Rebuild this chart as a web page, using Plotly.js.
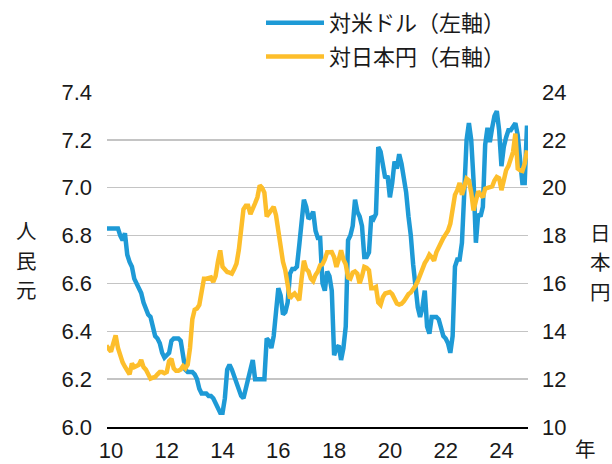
<!DOCTYPE html>
<html><head><meta charset="utf-8">
<script src="https://cdn.plot.ly/plotly-3.0.1.min.js"></script>
<style>html,body{margin:0;padding:0;background:#fff;}#chart{width:612px;height:464px;}</style>
</head><body><div id="chart"></div>
<script>
// Monthly data, Nov 2009 – Dec 2024
const startYear = 2009;
const startMonth = 11;
// 人民元 per US dollar (left axis)
const usdCny = [
  6.83, 6.83,
  6.83, 6.83, 6.83, 6.83, 6.80, 6.78, 6.81, 6.72, 6.69, 6.67, 6.62, 6.60,
  6.58, 6.56, 6.52, 6.49, 6.47, 6.46, 6.41, 6.38, 6.37, 6.35, 6.31, 6.29,
  6.30, 6.31, 6.36, 6.37, 6.37, 6.37, 6.36, 6.31, 6.24, 6.23, 6.23, 6.23,
  6.22, 6.20, 6.16, 6.14, 6.14, 6.14, 6.13, 6.13, 6.12, 6.10, 6.09, 6.06,
  6.06, 6.12, 6.24, 6.26, 6.24, 6.21, 6.18, 6.15, 6.13, 6.12, 6.16, 6.20,
  6.23, 6.28, 6.20, 6.20, 6.20, 6.20, 6.20, 6.37, 6.36, 6.33, 6.38, 6.48,
  6.58, 6.55, 6.47, 6.48, 6.52, 6.64, 6.66, 6.66, 6.67, 6.76, 6.88, 6.95,
  6.92, 6.87, 6.88, 6.90, 6.82, 6.79, 6.79, 6.60, 6.57, 6.65, 6.63, 6.57,
  6.30, 6.33, 6.34, 6.28, 6.33, 6.42, 6.78, 6.80, 6.84, 6.95, 6.90, 6.88,
  6.84, 6.71, 6.71, 6.73, 6.88, 6.87, 6.89, 7.17, 7.15, 7.09, 7.04, 7.05,
  6.96, 7.02, 7.11, 7.08, 7.14, 7.10, 7.05, 6.98, 6.88, 6.80, 6.68, 6.57,
  6.50, 6.46, 6.50, 6.57, 6.42, 6.39, 6.46, 6.46, 6.46, 6.45, 6.41, 6.38,
  6.37, 6.35, 6.31, 6.38, 6.67, 6.70, 6.70, 6.77, 6.98, 7.20, 7.27, 7.20,
  7.03, 6.77, 6.89, 6.88, 6.92, 7.18, 7.25, 7.19, 7.25, 7.30, 7.32, 7.24,
  7.09, 7.17, 7.21, 7.24, 7.24, 7.26, 7.27, 7.22, 7.10, 7.02, 7.02, 7.26
];
// 日本円 per 人民元 (right axis)
const jpyCny = [
  13.40, 13.30,
  13.15, 13.50, 13.83, 13.30, 12.95, 12.70, 12.52, 12.35, 12.20, 12.65, 12.50, 12.55,
  12.60, 12.80, 12.50, 12.40, 12.25, 12.02, 12.06, 12.09, 12.20, 12.30, 12.30, 12.25,
  12.30, 12.75, 12.85, 12.45, 12.35, 12.35, 12.40, 12.55, 12.45, 12.60, 13.30, 14.50,
  14.90, 14.95, 15.10, 15.80, 16.20, 16.20, 16.25, 16.25, 16.06, 16.30, 16.90, 17.38,
  16.70, 16.55, 16.48, 16.45, 16.41, 16.60, 16.83, 17.40, 18.20, 19.10, 19.25, 19.25,
  18.90, 19.20, 19.35, 19.60, 20.10, 20.00, 19.80, 18.80, 18.95, 19.05, 19.20, 18.85,
  18.20, 17.50, 16.90, 16.55, 16.00, 15.37, 15.50, 15.58, 15.45, 15.30, 16.20, 16.95,
  16.60, 16.50, 16.20, 16.10, 16.35, 16.50, 16.76, 16.80, 17.00, 17.30, 17.30, 17.31,
  17.10, 16.69, 17.00, 17.38, 17.00, 16.80, 16.25, 16.20, 16.45, 16.50, 16.41, 16.00,
  16.30, 16.69, 16.65, 16.55, 15.80, 15.80, 15.85, 15.20, 15.10, 15.43, 15.58, 15.60,
  15.64, 15.55, 15.30, 15.16, 15.12, 15.15, 15.25, 15.43, 15.55, 15.62, 15.75, 15.90,
  16.10, 16.40, 16.60, 16.85, 17.00, 17.20, 17.10, 16.95, 17.30, 17.52, 17.75, 17.90,
  18.05, 18.20, 18.50, 19.20, 19.70, 19.90, 20.20, 19.70, 20.10, 20.38, 20.30, 19.80,
  19.05, 19.40, 19.85, 19.70, 19.60, 19.96, 19.98, 20.00, 20.05, 20.30, 20.45, 20.40,
  19.90, 20.30, 20.73, 20.90, 21.15, 21.50, 22.26, 20.80, 20.73, 20.70, 21.00, 21.56
];
const xTickVals = [2010, 2012, 2014, 2016, 2018, 2020, 2022, 2024];
const xTickText = ['10', '12', '14', '16', '18', '20', '22', '24'];
const leftTickVals = [6.0, 6.2, 6.4, 6.6, 6.8, 7.0, 7.2, 7.4];
const rightTickVals = [10, 12, 14, 16, 18, 20, 22, 24];
const seriesNames = ['対米ドル（左軸）', '対日本円（右軸）'];
const leftTitleChars = ['人', '民', '元'];
const rightTitleChars = ['日', '本', '円'];

const months = usdCny.map((_, i) => startYear + (startMonth - 1 + i) / 12);

const W = 612, H = 464, PL = 107, PR = 528, PT = 92, PB = 427;
const numFont = 'Liberation Sans, Arial, sans-serif';
const cjkFont = 'Noto Sans CJK JP, sans-serif';
const txt = '#1a1a1a';
const px = x => (x - PL) / (PR - PL);
const py = y => (PB - y) / (PB - PT);

const traces = [
  {x: months, y: usdCny, name: seriesNames[0], type: 'scatter', mode: 'lines',
   line: {color: '#1E9AD6', width: 4.5}, yaxis: 'y', legendgroup: 'a'},
  {x: months, y: jpyCny, name: seriesNames[1], type: 'scatter', mode: 'lines',
   line: {color: '#FDBE2B', width: 4.5}, yaxis: 'y2', legendgroup: 'b'}
];

function ann(text, x, y, size) {
  return {text: text, xref: 'paper', yref: 'paper', x: px(x), y: py(y),
    xanchor: 'center', yanchor: 'middle', showarrow: false,
    font: {family: cjkFont, size: size, color: txt}};
}
const pitch = 29.5;
const stacked = (chars, x, yMid) =>
  chars.map((c, i) => ann(c, x, yMid + (i - 1) * pitch, 20.5));

const layout = {
  width: W, height: H,
  margin: {l: PL, r: W - PR, t: PT, b: H - PB, pad: 0, autoexpand: false},
  paper_bgcolor: '#fff', plot_bgcolor: '#fff',
  showlegend: true,
  legend: {x: 261 / W, y: 1 - 2 / H, xref: 'container', yref: 'container',
    xanchor: 'left', yanchor: 'top', bgcolor: 'rgba(0,0,0,0)', borderwidth: 0,
    font: {family: cjkFont, size: 22, color: txt}, tracegroupgap: 2, itemwidth: 58},
  xaxis: {type: 'linear', range: [2009.857, 2024.952], tickvals: xTickVals, ticktext: xTickText,
    showgrid: false, zeroline: false, showline: true, linecolor: '#000', linewidth: 2,
    ticks: '', ticklabelstandoff: 3, automargin: false,
    tickfont: {family: numFont, size: 22, color: txt}, fixedrange: true},
  yaxis: {range: [6.0, 7.4], tickvals: leftTickVals, ticktext: leftTickVals.map(v => v.toFixed(1)),
    showgrid: true, gridcolor: '#c4c4c4', gridwidth: 1.5, zeroline: false, showline: false,
    ticks: '', ticklabelstandoff: 14, automargin: false,
    tickfont: {family: numFont, size: 22, color: txt}},
  yaxis2: {range: [10, 24], tickvals: rightTickVals, overlaying: 'y', side: 'right',
    showgrid: false, zeroline: false, showline: false, ticks: '', ticklabelstandoff: 13,
    automargin: false, tickfont: {family: numFont, size: 22, color: txt}},
  annotations: [
    ...stacked(leftTitleChars, 26.7, 259.5),
    ...stacked(rightTitleChars, 600, 261),
    ann('年', 585, 448, 20.5)
  ]
};

Plotly.newPlot('chart', traces, layout, {staticPlot: true, displayModeBar: false});
</script></body></html>
